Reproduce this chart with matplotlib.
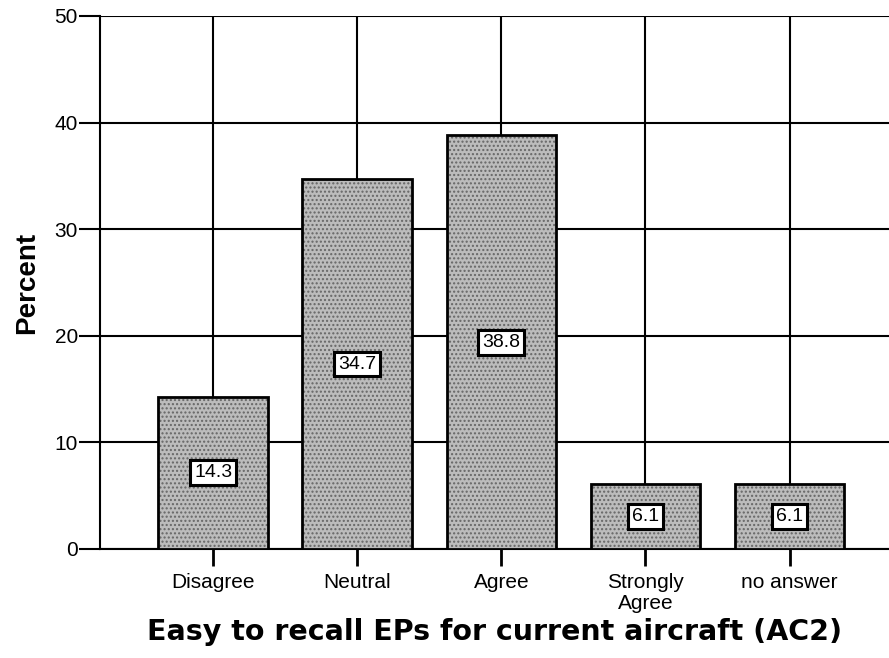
import matplotlib
matplotlib.use("Agg")
import matplotlib.pyplot as plt
import numpy as np

categories = ["Disagree", "Neutral", "Agree", "Strongly\nAgree", "no answer"]
percent = [14.3, 34.7, 38.8, 6.1, 6.1]
yticks = [0, 10, 20, 30, 40, 50]

plt.rcParams['font.family'] = ['Liberation Sans', 'DejaVu Sans']

fig = plt.figure(figsize=(8.89, 6.58), dpi=100)
ax = fig.add_axes([0.1125, 0.1657, 0.8875, 0.81])

x = np.arange(len(categories))
bars = ax.bar(x, percent, width=0.76, color='#bcbcbc', edgecolor='black',
              linewidth=2, hatch='....', zorder=3)
for b in bars:
    b._hatch_color = (0.4, 0.4, 0.4, 1.0)

# value labels in white boxes at middle of each bar
for xi, v in zip(x, percent):
    ax.text(xi, v / 2, f"{v:.1f}", ha='center', va='center', fontsize=14, zorder=5,
            bbox=dict(boxstyle='square,pad=0.2', facecolor='white', edgecolor='black', linewidth=2.2))

ax.set_xlim(-0.785, 4.69)
ax.set_ylim(0, 50)
ax.set_yticks(yticks)
ax.set_xticks(x)
ax.set_xticklabels(categories, fontsize=15, linespacing=1.15)
ax.tick_params(axis='y', labelsize=15, length=15, width=1.5, pad=1)
ax.tick_params(axis='x', length=12, width=2, pad=5)

ax.grid(True, color='black', linewidth=1.5, zorder=0)
ax.set_axisbelow(True)
ax.spines['top'].set_visible(False)
ax.spines['right'].set_visible(False)
ax.spines['left'].set_linewidth(1.5)
ax.spines['bottom'].set_linewidth(1.5)

ax.set_ylabel("Percent", fontsize=20, fontweight='bold', labelpad=10)
ax.set_xlabel("Easy to recall EPs for current aircraft (AC2)", fontsize=20.5,
              fontweight='bold', family='DejaVu Sans', labelpad=4)

fig.savefig("out.png", dpi=100)
